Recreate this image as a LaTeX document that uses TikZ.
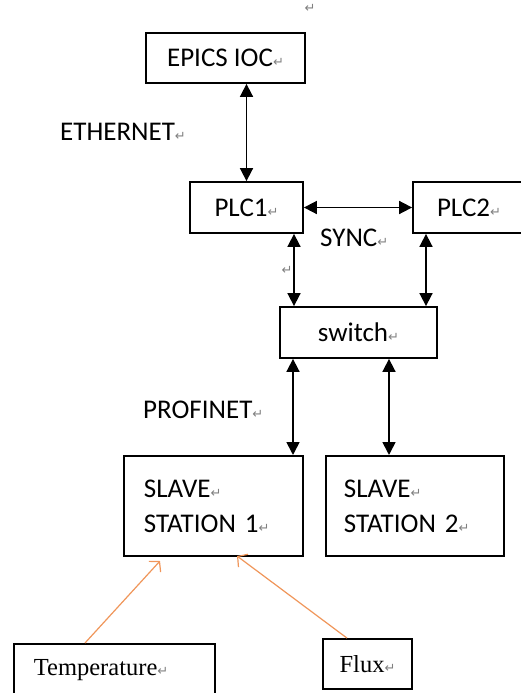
\documentclass[tikz,border=0pt]{standalone}
\usepackage{fontspec}
\setmainfont{Carlito}
\newfontfamily\serifface{Liberation Serif}
\newfontfamily\symface{DejaVu Sans}
\usetikzlibrary{positioning}
\usetikzlibrary{arrows.meta}
\definecolor{sensorange}{RGB}{240,150,90}
\newcommand{\pmk}{{\symface\fontsize{13}{13}\selectfont\color{gray}↵}}

\begin{document}
\begin{tikzpicture}[x=1pt,y=-1pt,
  box/.style={draw,line width=1.8pt,inner sep=0pt,font=\fontsize{27}{35}\selectfont},
  sbox/.style={box,font=\serifface\fontsize{24.5}{28}\selectfont},
  lbl/.style={anchor=west,inner sep=0pt,font=\fontsize{27}{35}\selectfont},
  link/.style={line width=1.7pt,{Triangle[length=13pt,width=13pt]}-{Triangle[length=13pt,width=13pt]}},
  sense/.style={draw=sensorange,line width=1.2pt,-{Straight Barb[length=7pt,width=16pt]}}]
	\clip (0,0) rectangle (521,693);
	\fill[white] (0,0) rectangle (521,693);

	% control level
	\node[box,minimum width=159pt,minimum height=50pt] (ioc) at (225.5,58) {EPICS IOC\pmk};
	\node[box,minimum width=113pt,minimum height=51pt] (plc1) at (246.5,207.5) {PLC1\pmk};
	\node[box,minimum width=112pt,minimum height=51pt] (plc2) at (469,207.5) {PLC2\pmk};
	\node[box,minimum width=157pt,minimum height=51pt] (sw) at (358.5,332.5) {switch\pmk};

	% field level
	\node[box,anchor=north west,text width=139pt,inner xsep=20pt,minimum height=100pt,align=left] (slave1) at (123,455) {SLAVE\pmk\\STATION 1\pmk};
	\node[box,anchor=north west,text width=142pt,inner xsep=18pt,minimum height=100pt,align=left] (slave2) at (325,455) {SLAVE\pmk\\STATION 2\pmk};
	\node[sbox,anchor=north west,text width=161pt,inner xsep=20pt,minimum height=52pt,align=left] (temp) at (13,643) {Temperature\pmk};
	\node[sbox,minimum width=89pt,minimum height=50pt] (flux) at (367.5,664) {Flux\pmk};

	% labels
	\node[lbl] (eth) at (60,132) {ETHERNET\pmk};
	\node[lbl] (sync) at (320,238) {SYNC\pmk};
	\node[lbl] (pn) at (143,410) {PROFINET\pmk};
	\node[inner sep=0pt] (topmark) at (310,8) {\pmk};
	\node[inner sep=0pt] (sidemark) at (287,270) {\pmk};

	\draw[link] (ioc.south -| plc1.north) -- (plc1.north);
	\draw[link] (plc1.east) -- (plc2.west);
	\draw[link] (plc1.south -| 294,0) -- (sw.north -| 294,0);
	\draw[link] (plc2.south -| 426,0) -- (sw.north -| 426,0);
	\draw[link] (sw.south -| 293,0) -- (slave1.north -| 293,0);
	\draw[link] (sw.south -| 389,0) -- (slave2.north -| 389,0);

	\coordinate (t1) at (160,561);
	\coordinate (t2) at (237,556);
	\draw[sense] (temp.north -| 85,0) -- (t1);
	\draw[sense] (flux.north -| 347,0) -- (t2);
\end{tikzpicture}
\end{document}
